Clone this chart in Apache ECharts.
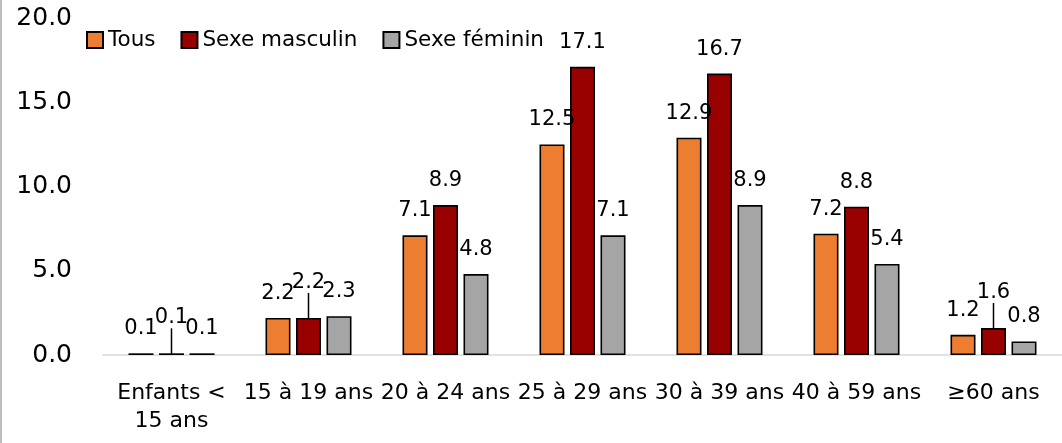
<!DOCTYPE html>
<html>
<head>
<meta charset="utf-8">
<script src="https://cdn.jsdelivr.net/npm/echarts@6/dist/echarts.min.js"></script>
<style>
html,body{margin:0;padding:0;background:#fff;}
#chart{width:1062px;height:443px;}
</style>
</head>
<body>
<div id="chart"></div>
<script>
const categories = ["Enfants <\n15 ans", "15 à 19 ans", "20 à 24 ans", "25 à 29 ans", "30 à 39 ans", "40 à 59 ans", "≥60 ans"];
const seriesNames = ["Tous", "Sexe masculin", "Sexe féminin"];
const tous = [0.1, 2.2, 7.1, 12.5, 12.9, 7.2, 1.2];
const masculin = [0.1, 2.2, 8.9, 17.1, 16.7, 8.8, 1.6];
const feminin = [0.1, 2.3, 4.8, 7.1, 8.9, 5.4, 0.8];
const yTicks = [0, 5, 10, 15, 20];

const FONT = "DejaVu Sans";
const colors = ["#ED7D31", "#990000", "#A5A5A5"];
const labelOffsets = [[-7, 0], [0, 0], [4, 0]];

// a "Sexe masculin" label is raised (with a leader line) when it would crowd its neighbours
function crowded(i) {
  return Math.abs(masculin[i] - tous[i]) < 0.5 || Math.abs(masculin[i] - feminin[i]) < 0.5;
}

function makeSeries(i, data) {
  return {
    name: seriesNames[i],
    type: "bar",
    data: data.map((v, k) => ({
      value: v,
      labelLine: { show: i === 1 && crowded(k) }
    })),
    barWidth: 25,
    barGap: "22%",
    itemStyle: { color: colors[i], borderColor: "#000", borderWidth: 1.6 },
    label: {
      show: true,
      position: "top",
      distance: 14,
      offset: labelOffsets[i],
      formatter: p => p.value.toFixed(1),
      fontFamily: FONT,
      fontSize: 21,
      color: "#000"
    },
    labelLine: { show: false, lineStyle: { color: "#000", width: 1.5 } }
  };
}

const chart = echarts.init(document.getElementById("chart"), null, { renderer: "canvas" });
chart.setOption({
  animation: false,
  textStyle: { fontFamily: FONT },
  graphic: [{
    type: "line",
    shape: { x1: 1, y1: 0, x2: 1, y2: 443 },
    style: { stroke: "#a6a6a6", lineWidth: 1.5 }
  }],
  legend: {
    left: 81,
    top: 24,
    itemWidth: 16,
    itemHeight: 16,
    itemGap: 25,
    icon: "rect",
    textStyle: { fontFamily: FONT, fontSize: 21.5, color: "#000" },
    data: seriesNames
  },
  grid: { left: 103, right: -8, top: 18, bottom: 88, containLabel: false },
  xAxis: {
    type: "category",
    data: categories,
    axisLine: { show: true, lineStyle: { color: "#d9d9d9", width: 1.5 } },
    axisTick: { show: false },
    axisLabel: {
      interval: 0,
      margin: 24,
      fontFamily: FONT,
      fontSize: 22,
      lineHeight: 28,
      color: "#000"
    }
  },
  yAxis: {
    type: "value",
    min: yTicks[0],
    max: yTicks[yTicks.length - 1],
    interval: 5,
    axisLine: { show: false },
    axisTick: { show: false },
    splitLine: { show: false },
    axisLabel: {
      margin: 31,
      fontFamily: FONT,
      fontSize: 25,
      color: "#000",
      formatter: v => v.toFixed(1)
    }
  },
  labelLayout: function (params) {
    if (params.seriesIndex === 1 && crowded(params.dataIndex)) {
      return { dy: -11 };
    }
    return {};
  },
  series: [makeSeries(0, tous), makeSeries(1, masculin), makeSeries(2, feminin)]
});
</script>
</body>
</html>
